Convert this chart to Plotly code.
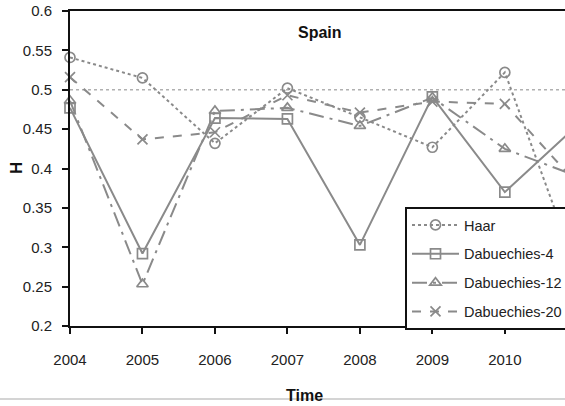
import plotly.graph_objects as go

# Hurst exponent estimates for Spain, by wavelet family
years = [2004, 2005, 2006, 2007, 2008, 2009, 2010, 2011]
haar = [0.541, 0.515, 0.432, 0.502, 0.465, 0.427, 0.522, 0.27]
daub4 = [0.477, 0.292, 0.464, 0.463, 0.303, 0.491, 0.370, 0.455]
daub12 = [0.486, 0.253, 0.473, 0.477, 0.454, 0.490, 0.425, 0.39]
daub20 = [0.516, 0.437, 0.446, 0.493, 0.471, 0.485, 0.482, 0.38]

year_ticks = [2004, 2005, 2006, 2007, 2008, 2009, 2010]
h_ticks = [0.2, 0.25, 0.3, 0.35, 0.4, 0.45, 0.5, 0.55, 0.6]
h_labels = ["0.2", "0.25", "0.3", "0.35", "0.4", "0.45", "0.5", "0.55", "0.6"]

FONT = "Liberation Sans, Arial, sans-serif"
GREY = "#8a8a8a"

series = [
    ("Haar", haar, "dot", "circle-open"),
    ("Dabuechies-4", daub4, "solid", "square-open"),
    ("Dabuechies-12", daub12, "longdashdot", "triangle-up-open"),
    ("Dabuechies-20", daub20, "dash", "x-thin-open"),
]

fig = go.Figure()
for i, (name, vals, dash, sym) in enumerate(series):
    fig.add_trace(go.Scatter(
        x=years, y=vals, name=name, mode="lines+markers",
        line=dict(color=GREY, width=2, dash=dash),
        marker=dict(symbol=sym, size=10, color=GREY, line=dict(color=GREY, width=1.7)),
        cliponaxis=False, legendgroup=f"g{i}",
    ))

# reference level H = 0.5
fig.add_shape(type="line", xref="x domain", yref="y", x0=0, x1=1, y0=0.5, y1=0.5,
              line=dict(color="#b0b0b0", width=1.5, dash="dot"), layer="below")

# page rule beneath the chart
fig.add_shape(type="line", xref="paper", yref="paper", x0=-0.15, x1=1.05,
              y0=-0.232, y1=-0.232, line=dict(color="#d4d4d4", width=2), layer="below")

fig.add_annotation(text="<b>Spain</b>", xref="paper", yref="paper", x=(320 - 70) / 495,
                   y=(326 - 33) / 315, showarrow=False, xanchor="center", yanchor="middle",
                   font=dict(family=FONT, size=16, color="#111"))
fig.add_annotation(text="<b>Time</b>", xref="paper", yref="paper", x=(304 - 70) / 495,
                   y=(326 - 395) / 315, showarrow=False, xanchor="center", yanchor="middle",
                   font=dict(family=FONT, size=16, color="#111"))
fig.add_annotation(text="<b>H</b>", xref="paper", yref="paper", x=(16 - 70) / 495,
                   y=(326 - 168) / 315, showarrow=False, xanchor="center", yanchor="middle",
                   textangle=-90, font=dict(family=FONT, size=17, color="#111"))
fig.add_annotation(text="<b>Fig.</b>", xref="paper", yref="paper", x=(526 - 70) / 495,
                   y=(326 - 401) / 315, showarrow=False, xanchor="left", yanchor="top",
                   font=dict(family=FONT, size=15, color="#222"))

fig.update_layout(
    width=565, height=406,
    margin=dict(l=70, r=0, t=11, b=80, autoexpand=False),
    paper_bgcolor="white", plot_bgcolor="white",
    font=dict(family=FONT, size=15, color="#222"),
    showlegend=True,
    legend=dict(
        x=(405 - 70) / 495, y=(326 - 207) / 315, xanchor="left", yanchor="top",
        bgcolor="white", bordercolor="#111", borderwidth=2,
        font=dict(family=FONT, size=14.5, color="#222"),
        tracegroupgap=7, itemwidth=47,
    ),
    xaxis=dict(
        range=[2004, 2010.83], tickvals=year_ticks, ticktext=[str(y) for y in year_ticks],
        showgrid=False, zeroline=False, showline=True, linecolor="#111", linewidth=2,
        mirror=True, ticks="outside", ticklen=6, tickwidth=1.5, tickcolor="#111",
        ticklabelstandoff=13, tickfont=dict(size=15),
    ),
    yaxis=dict(
        range=[0.2, 0.6], tickvals=h_ticks, ticktext=h_labels,
        showgrid=False, zeroline=False, showline=True, linecolor="#111", linewidth=2,
        ticks="outside", ticklen=6, tickwidth=1.5, tickcolor="#111",
        ticklabelstandoff=7, tickfont=dict(size=15),
    ),
)

fig.write_html("out.html")
